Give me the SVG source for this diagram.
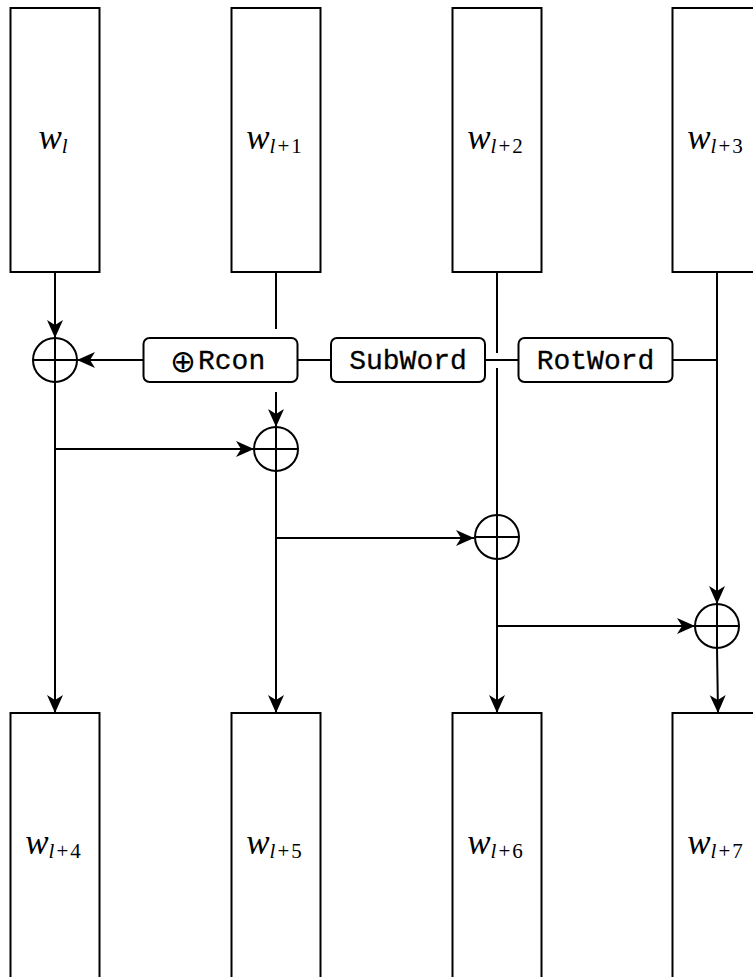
<svg xmlns="http://www.w3.org/2000/svg" width="753" height="977" viewBox="0 0 753 977">
<style>
.box{fill:#fff;stroke:#000;stroke-width:2}
.op{fill:#fff;stroke:#000;stroke-width:2}
.ln{fill:none;stroke:#000;stroke-width:2}
.m{font-family:"Liberation Serif",serif;font-size:35px;fill:#000}
.it{font-style:italic}
.sub{font-size:21px}
.tt{font-family:"Liberation Mono",monospace;font-size:28px;fill:#000;stroke:#000;stroke-width:0.3}
</style>
<defs>
<marker id="arr" markerUnits="userSpaceOnUse" markerWidth="18" markerHeight="16" refX="18" refY="8" orient="auto" overflow="visible">
<path d="M0,0 L18,8 L0,16 L5,8 Z" fill="#000"/>
</marker>
</defs>
<g id="connectors">
<line class="ln" x1="55" y1="272" x2="55" y2="338" marker-end="url(#arr)"/>
<line class="ln" x1="55" y1="382" x2="55" y2="713" marker-end="url(#arr)"/>
<line class="ln" x1="55" y1="449" x2="254" y2="449" marker-end="url(#arr)"/>
<line class="ln" x1="143" y1="360" x2="77" y2="360" marker-end="url(#arr)"/>
<line class="ln" x1="276" y1="272" x2="276" y2="329"/>
<line class="ln" x1="276" y1="392" x2="276" y2="427" marker-end="url(#arr)"/>
<line class="ln" x1="276" y1="471" x2="276" y2="713" marker-end="url(#arr)"/>
<line class="ln" x1="276" y1="538" x2="474" y2="538" marker-end="url(#arr)"/>
<line class="ln" x1="298" y1="360" x2="331" y2="360"/>
<line class="ln" x1="485" y1="360" x2="518" y2="360"/>
<line class="ln" x1="497" y1="272" x2="497" y2="353"/>
<line class="ln" x1="497" y1="368" x2="497" y2="713" marker-end="url(#arr)"/>
<line class="ln" x1="497" y1="626" x2="695" y2="626" marker-end="url(#arr)"/>
<line class="ln" x1="673" y1="360" x2="717" y2="360"/>
<line class="ln" x1="717" y1="272" x2="717" y2="604" marker-end="url(#arr)"/>
<line class="ln" x1="717" y1="648" x2="718" y2="713" marker-end="url(#arr)"/>
</g>
<g id="w0"><rect class="box" x="10.5" y="8" width="89" height="264"/>
<text class="m" x="53" y="149" text-anchor="middle"><tspan class="it">w</tspan><tspan class="sub it" dy="4">l</tspan></text></g>
<g id="w1"><rect class="box" x="231.5" y="8" width="89" height="264"/>
<text class="m" x="274" y="149" text-anchor="middle"><tspan class="it">w</tspan><tspan class="sub it" dy="4">l</tspan><tspan class="sub" dx="2">+</tspan><tspan class="sub" dx="2">1</tspan></text></g>
<g id="w2"><rect class="box" x="452.5" y="8" width="89" height="264"/>
<text class="m" x="495" y="149" text-anchor="middle"><tspan class="it">w</tspan><tspan class="sub it" dy="4">l</tspan><tspan class="sub" dx="2">+</tspan><tspan class="sub" dx="2">2</tspan></text></g>
<g id="w3"><rect class="box" x="672.5" y="8" width="89" height="264"/>
<text class="m" x="715" y="149" text-anchor="middle"><tspan class="it">w</tspan><tspan class="sub it" dy="4">l</tspan><tspan class="sub" dx="2">+</tspan><tspan class="sub" dx="2">3</tspan></text></g>
<g id="w4"><rect class="box" x="10.5" y="713" width="89" height="270"/>
<text class="m" x="53" y="854" text-anchor="middle"><tspan class="it">w</tspan><tspan class="sub it" dy="4">l</tspan><tspan class="sub" dx="2">+</tspan><tspan class="sub" dx="2">4</tspan></text></g>
<g id="w5"><rect class="box" x="231.5" y="713" width="89" height="270"/>
<text class="m" x="274" y="854" text-anchor="middle"><tspan class="it">w</tspan><tspan class="sub it" dy="4">l</tspan><tspan class="sub" dx="2">+</tspan><tspan class="sub" dx="2">5</tspan></text></g>
<g id="w6"><rect class="box" x="452.5" y="713" width="89" height="270"/>
<text class="m" x="495" y="854" text-anchor="middle"><tspan class="it">w</tspan><tspan class="sub it" dy="4">l</tspan><tspan class="sub" dx="2">+</tspan><tspan class="sub" dx="2">6</tspan></text></g>
<g id="w7"><rect class="box" x="672.5" y="713" width="89" height="270"/>
<text class="m" x="715" y="854" text-anchor="middle"><tspan class="it">w</tspan><tspan class="sub it" dy="4">l</tspan><tspan class="sub" dx="2">+</tspan><tspan class="sub" dx="2">7</tspan></text></g>
<g id="rcon"><rect class="box" x="143.5" y="338" width="154" height="44" rx="6"/>
<text x="183" y="372" text-anchor="middle" font-family="DejaVu Sans,sans-serif" font-weight="200" font-size="31" fill="#000">⊕</text>
<text class="tt" x="198" y="369">Rcon</text></g>
<g id="subword"><rect class="box" x="331" y="338" width="154" height="44" rx="6"/>
<text class="tt" x="408" y="369" text-anchor="middle">SubWord</text></g>
<g id="rotword"><rect class="box" x="518.5" y="338" width="154" height="44" rx="6"/>
<text class="tt" x="595.5" y="369" text-anchor="middle">RotWord</text></g>
<g id="x0"><circle class="op" cx="55" cy="360" r="22"/><path class="ln" d="M33,360H77M55,338V382"/></g>
<g id="x1"><circle class="op" cx="276" cy="449" r="22"/><path class="ln" d="M254,449H298M276,427V471"/></g>
<g id="x2"><circle class="op" cx="497" cy="537" r="22"/><path class="ln" d="M475,537H519M497,515V559"/></g>
<g id="x3"><circle class="op" cx="717" cy="626" r="22"/><path class="ln" d="M695,626H739M717,604V648"/></g>
</svg>
